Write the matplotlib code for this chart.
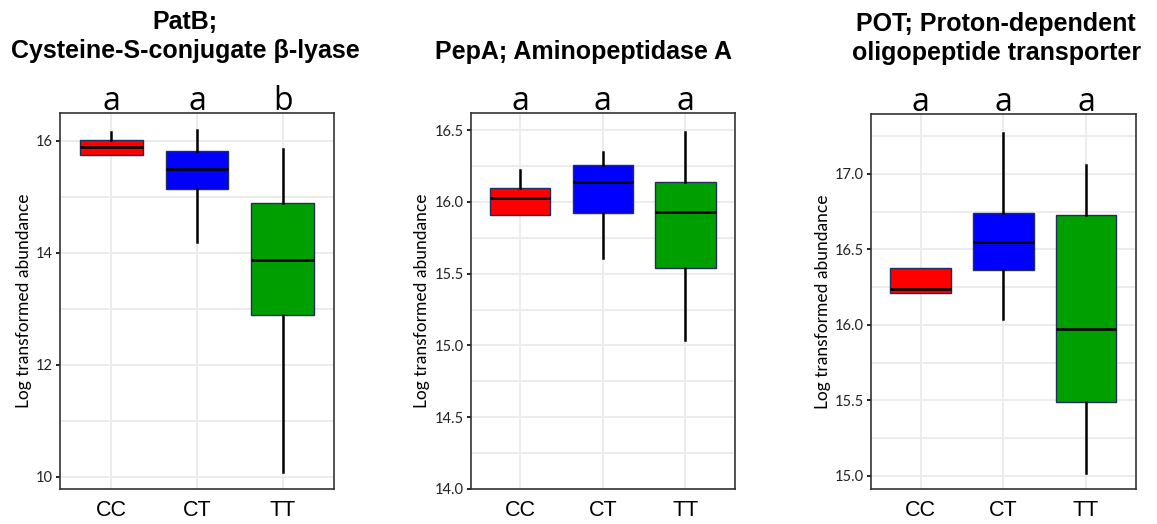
import matplotlib
matplotlib.use("Agg")
import matplotlib.pyplot as plt
from matplotlib.ticker import MultipleLocator

groups = ["CC", "CT", "TT"]
colors = ["#ff0000", "#0000ff", "#009f00"]

titles = ["PatB;\nCysteine-S-conjugate \u03b2-lyase",
          "PepA; Aminopeptidase A",
          "POT; Proton-dependent\noligopeptide transporter"]
letters = [["a", "a", "b"], ["a", "a", "a"], ["a", "a", "a"]]

# whisker low, q1, median, q3, whisker high for CC, CT, TT
patb_lo = [15.75, 14.19, 10.09]
patb_q1 = [15.75, 15.14, 12.89]
patb_med = [15.89, 15.50, 13.88]
patb_q3 = [16.01, 15.82, 14.90]
patb_hi = [16.16, 16.20, 15.85]

pepa_lo = [15.91, 15.61, 15.04]
pepa_q1 = [15.91, 15.92, 15.54]
pepa_med = [16.03, 16.14, 15.93]
pepa_q3 = [16.10, 16.26, 16.14]
pepa_hi = [16.225, 16.35, 16.49]

pot_lo = [16.21, 16.04, 15.02]
pot_q1 = [16.21, 16.36, 15.49]
pot_med = [16.24, 16.55, 15.97]
pot_q3 = [16.374, 16.74, 16.73]
pot_hi = [16.374, 17.27, 17.06]

panels = [
    (patb_lo, patb_q1, patb_med, patb_q3, patb_hi, (9.78, 16.5), 2, 1, "{:.0f}"),
    (pepa_lo, pepa_q1, pepa_med, pepa_q3, pepa_hi, (14.0, 16.62), 0.5, 0.25, "{:.1f}"),
    (pot_lo, pot_q1, pot_med, pot_q3, pot_hi, (14.91, 17.395), 0.5, 0.25, "{:.1f}"),
]

axes_pos = [[0.0519, 0.0668, 0.2368, 0.7176],
            [0.4068, 0.0668, 0.2284, 0.7176],
            [0.7528, 0.0662, 0.2288, 0.7157]]
title_pos = [(0.160, 0.931), (0.504, 0.901), (0.861, 0.926)]

fig = plt.figure(figsize=(11.57, 5.24), dpi=100)

for i, (lo, q1, med, q3, hi, ylim, major, minor, fmt) in enumerate(panels):
    ax = fig.add_axes(axes_pos[i])
    stats = []
    for j, g in enumerate(groups):
        stats.append({"whislo": lo[j], "q1": q1[j], "med": med[j], "q3": q3[j],
                      "whishi": hi[j], "fliers": [], "label": g})
    bp = ax.bxp(stats, positions=[1, 2, 3], widths=0.73, patch_artist=True,
                showcaps=False, showfliers=False, zorder=3,
                boxprops=dict(edgecolor="#1f2d5c", linewidth=1.0),
                whiskerprops=dict(color="black", linewidth=1.8),
                medianprops=dict(color="black", linewidth=1.9))
    for patch, c in zip(bp["boxes"], colors):
        patch.set_facecolor(c)
    ax.set_xlim(0.4, 3.6)
    ax.set_ylim(*ylim)
    ax.yaxis.set_major_locator(MultipleLocator(major))
    ax.yaxis.set_minor_locator(MultipleLocator(minor))
    ax.set_yticklabels([fmt.format(t) for t in ax.get_yticks()])
    ax.set_ylim(*ylim)
    ax.grid(True, which="major", color="#ebebeb", linewidth=1.3, zorder=0)
    ax.grid(True, which="minor", axis="y", color="#ebebeb", linewidth=1.3, zorder=0)
    ax.set_axisbelow(True)
    ax.tick_params(axis="y", which="minor", length=0)
    ax.tick_params(axis="y", which="major", length=3, width=1.2, pad=2,
                   labelsize=10.5, labelcolor="#222222")
    ax.tick_params(axis="x", length=0, pad=8, labelsize=15.5)
    for lab in ax.get_yticklabels():
        lab.set_fontfamily("Lato")
    for lab in ax.get_xticklabels():
        lab.set_fontfamily("Liberation Sans")
    for s in ax.spines.values():
        s.set_color("#333333")
        s.set_linewidth(1.2)
    ax.set_ylabel("Log transformed abundance", fontsize=12.5, family="Lato", labelpad=3)
    for j, t in enumerate(letters[i]):
        ax.text(j + 1, 1.008, t, transform=ax.get_xaxis_transform(),
                ha="center", va="baseline", fontsize=23, family="Open Sans")
    fig.text(title_pos[i][0], title_pos[i][1], titles[i], ha="center", va="center",
             fontsize=18, fontweight="bold", family="Liberation Sans", linespacing=1.25)

fig.savefig("out.png", dpi=100)
